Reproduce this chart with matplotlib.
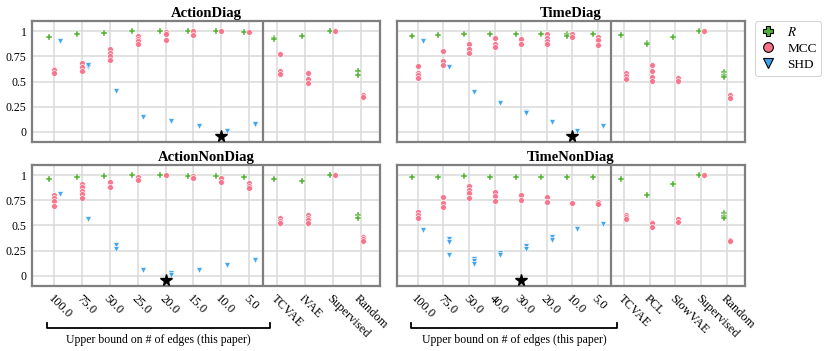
import matplotlib
matplotlib.use("Agg")
import matplotlib.pyplot as plt
from matplotlib.lines import Line2D
from matplotlib.transforms import blended_transform_factory

plt.rcParams['font.family'] = ['Liberation Serif', 'DejaVu Serif']
plt.rcParams['mathtext.fontset'] = 'stix'

# ---------------- data ----------------
action_cats = ['100.0', '75.0', '50.0', '25.0', '20.0', '15.0', '10.0', '5.0',
               'TCVAE', 'iVAE', 'Supervised', 'Random']
time_cats = ['100.0', '75.0', '50.0', '40.0', '30.0', '20.0', '10.0', '5.0',
             'TCVAE', 'PCL', 'SlowVAE', 'Supervised', 'Random']
n_bounds = 8

# ActionDiag
AD_R = [[0.94], [0.967], [0.983], [0.997], [1.0], [1.0], [1.0], [0.993],
        [0.934, 0.918], [0.95], [1.0], [0.60, 0.56]]
AD_MCC = [[0.627, 0.61, 0.587], [0.683, 0.644, 0.604], [0.825, 0.785, 0.752, 0.71],
          [0.95, 0.924, 0.898, 0.868], [0.99, 0.97, 0.91], [1.0, 0.96], [1.0], [0.993],
          [0.77, 0.604, 0.571], [0.584, 0.528, 0.488], [1.0], [0.37, 0.345]]
AD_SHD = [[0.90], [0.647, 0.66], [0.406], [0.152], [0.109], [0.06], [0.01], [0.066, 0.075]]

# TimeDiag
TD_R = [[0.95], [0.957], [0.967], [0.974], [0.974], [0.974], [0.974, 0.95], [0.97],
        [0.964], [0.88, 0.868], [0.94], [1.0], [0.594, 0.568, 0.545]]
TD_MCC = [[0.657, 0.587, 0.561, 0.535], [0.805, 0.70, 0.66], [0.868, 0.825, 0.785],
          [0.927, 0.871, 0.838], [0.917, 0.868], [0.97, 0.93, 0.898, 0.868],
          [0.974, 0.94], [0.94, 0.907, 0.865],
          [0.584, 0.554, 0.521], [0.66, 0.60, 0.54, 0.508], [0.535, 0.502], [1.0],
          [0.363, 0.337]]
TD_SHD = [[0.904], [0.647], [0.396], [0.29], [0.20, 0.185], [0.10], [0.01], [0.06]]

# ActionNonDiag
AN_R = [[0.96], [0.983], [0.993], [1.0], [1.0], [0.993], [0.987], [0.977],
        [0.96], [0.94], [1.0], [0.603, 0.57]]
AN_MCC = [[0.80, 0.775, 0.742, 0.695], [0.91, 0.877, 0.84, 0.81, 0.768], [0.934, 0.88],
          [0.983, 0.954], [1.0], [0.99, 0.974], [0.967, 0.927], [0.917, 0.89, 0.868],
          [0.57, 0.546, 0.523], [0.603, 0.576, 0.55, 0.526], [1.0], [0.387, 0.364, 0.344]]
AN_SHD = [[0.81], [0.56], [0.31, 0.265], [0.056], [0.03, 0.007], [0.056], [0.106], [0.162]]

# TimeNonDiag
TN_R = [[0.983], [0.983], [0.99], [0.983], [0.983], [0.983], [0.977], [0.977],
        [0.957], [0.80], [0.914], [1.0], [0.62, 0.596, 0.576]]
TN_MCC = [[0.636, 0.603, 0.576], [0.778, 0.725, 0.685], [0.887, 0.854, 0.818, 0.775],
          [0.828, 0.79, 0.742], [0.80, 0.75], [0.78, 0.73], [0.728], [0.735, 0.709],
          [0.609, 0.586, 0.563], [0.52, 0.487], [0.563, 0.53], [1.0], [0.36, 0.348]]
TN_SHD = [[0.46], [0.367, 0.338, 0.205], [0.172, 0.146, 0.116], [0.232, 0.205],
          [0.298, 0.27], [0.387, 0.354], [0.464], [0.51]]

titles = ['ActionDiag', 'TimeDiag', 'ActionNonDiag', 'TimeNonDiag']
star_idx = [6, 6, 4, 4]
star_y = -0.045
ytick_vals = [0, 0.25, 0.5, 0.75, 1]
ytick_labels = ['0', '0.25', '0.5', '0.75', '1']
bracket_label = 'Upper bound on # of edges (this paper)'

# ---------------- style ----------------
C_R = '#50b131'
C_MCC = '#f77189'
C_SHD = '#3ba3ec'
FRAME = '#7f7f7f'
GRID = '#dadada'

W, H = 830, 351
fig = plt.figure(figsize=(W / 100, H / 100), dpi=100)

boxes = [(32, 21, 380, 142), (397, 21, 745, 142),
         (32, 165, 380, 286), (397, 165, 745, 286)]
panel_data = [(action_cats, AD_R, AD_MCC, AD_SHD),
              (time_cats, TD_R, TD_MCC, TD_SHD),
              (action_cats, AN_R, AN_MCC, AN_SHD),
              (time_cats, TN_R, TN_MCC, TN_SHD)]

for k, ((x0, y0, x1, y1), (cats, R, MCC, SHD)) in enumerate(zip(boxes, panel_data)):
    ax = fig.add_axes([x0 / W, 1 - y1 / H, (x1 - x0) / W, (y1 - y0) / H])
    n = len(cats)
    ax.set_xlim(-0.8, n - 0.3)
    ax.set_ylim(-0.1, 1.1)
    ax.set_xticks(range(n))
    ax.set_yticks(ytick_vals)
    ax.grid(True, color=GRID, linewidth=1.1, zorder=0)
    ax.set_axisbelow(True)
    for sp in ax.spines.values():
        sp.set_color(FRAME)
        sp.set_linewidth(1.6)
    ax.axvline(n_bounds - 0.5, color=FRAME, linewidth=1.6, zorder=1)
    ax.tick_params(length=0, labelsize=8.5, pad=4)

    for i in range(n):
        if i < n_bounds:
            offs = (-0.2, 0.0, 0.2)
        else:
            offs = (-0.1, 0.1, None)
        for v in R[i]:
            ax.plot(i + offs[0], v, marker='P', ms=4.6, color=C_R, mec='white',
                    mew=0.3, linestyle='none', zorder=3)
        for v in MCC[i]:
            ax.plot(i + offs[1], v, marker='o', ms=4.2, color=C_MCC, mec='white',
                    mew=0.5, alpha=0.95, linestyle='none', zorder=3)
        if i < len(SHD):
            for v in SHD[i]:
                ax.plot(i + offs[2], v, marker='v', ms=4.0, color=C_SHD, mec='white',
                        mew=0.5, alpha=0.95, linestyle='none', zorder=3)
    ax.plot(star_idx[k], star_y, marker='*', ms=8.5, color='black', linestyle='none',
            zorder=4, clip_on=False)

    ax.set_title(titles[k], fontsize=10.5, fontweight='bold', pad=3)

    if k % 2 == 0:
        ax.set_yticklabels(ytick_labels)
    else:
        ax.set_yticklabels([])
    if k < 2:
        ax.set_xticklabels([])
    else:
        ax.set_xticklabels(cats, rotation=-45, ha='left', va='top',
                           rotation_mode='anchor', fontsize=9)
        ax.tick_params(axis='x', pad=5)
        tr = blended_transform_factory(ax.transData, fig.transFigure)
        xl, xr = -0.27, n_bounds - 0.25
        yb = 1 - 327.7 / H
        yt = 1 - 322.5 / H
        ax.plot([xl, xl, xr, xr], [yt, yb, yb, yt], color='black', linewidth=1.3,
                transform=tr, clip_on=False)
        ax.text((xl + xr) / 2, 1 - 340 / H, bracket_label, transform=tr,
                ha='center', va='center', fontsize=8.5)

handles = [Line2D([], [], marker='P', color=C_R, mec='black', mew=0.8, ms=7.5, linestyle='none'),
           Line2D([], [], marker='o', color=C_MCC, mec='black', mew=0.8, ms=7, linestyle='none'),
           Line2D([], [], marker='v', color=C_SHD, mec='black', mew=0.8, ms=7, linestyle='none')]
leg = fig.legend(handles, ['$R$', 'MCC', 'SHD'], loc='upper left',
                 bbox_to_anchor=(755 / W, 1 - 21 / H), borderaxespad=0,
                 fontsize=9.5, frameon=True,
                 handlelength=1.2, handletextpad=0.9, labelspacing=0.3,
                 borderpad=0.35, fancybox=True)
leg.get_frame().set_edgecolor('#cccccc')
leg.get_frame().set_linewidth(0.8)

fig.savefig('out.png', dpi=100)
